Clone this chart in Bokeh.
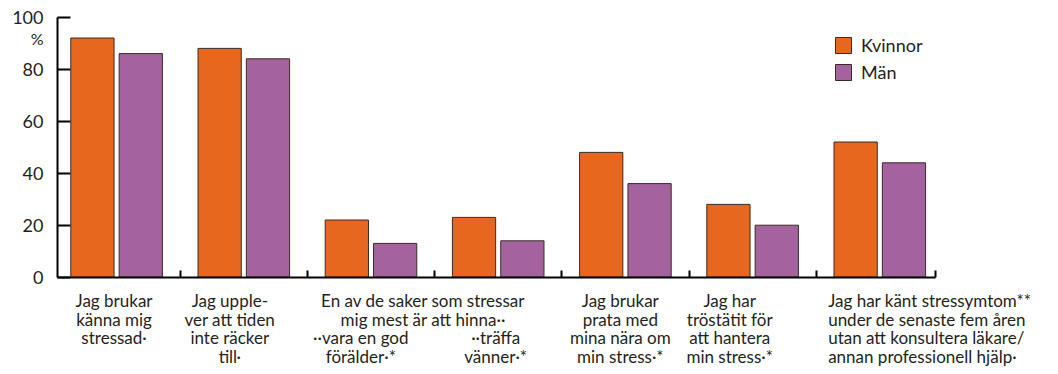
from bokeh.plotting import figure
from bokeh.models import ColumnDataSource, Range1d, FixedTicker, LabelSet, Label
from bokeh.core.properties import value
from bokeh.embed import file_html
from bokeh.resources import INLINE

# ---------------- data ----------------
series_names = ["Kvinnor", "Män"]
kvinnor = [92, 88, 22, 23, 48, 28, 52]
man = [86, 84, 13, 14, 36, 20, 44]
y_ticks = [0, 20, 40, 60, 80, 100]
y_unit = "%"

# category label texts (line by line); categories 3 and 4 share a heading
label_groups = [
    ["Jag brukar", "känna mig", "stressad·"],
    ["Jag upple-", "ver att tiden", "inte räcker", "till·"],
    ["En av de saker som stressar", "mig mest är att hinna··"],
    ["··vara en god", "förälder·*"],
    ["··träffa", "vänner·*"],
    ["Jag brukar", "prata med", "mina nära om", "min stress·*"],
    ["Jag har", "tröstätit för", "att hantera", "min stress·*"],
    ["Jag har känt stressymtom**", "under de senaste fem åren",
     "utan att konsultera läkare/", "annan professionell hjälp·"],
]

# ---------------- layout / style ----------------
ORANGE = "#E8671F"
PURPLE = "#A4639E"
EDGE = "#3b2b24"
TXT = "#231f20"
FONT = "Lato"

W, H = 1050, 370
PX_X = 127.2          # px per category
PX_Y = 2.6            # px per percent
X0_PX = 52.5          # px of category origin
Y0_PX = 276.7         # px of value 0 (from top)

group_x = [0.48, 1.39, 2.91, 2.42, 3.48, 4.46, 5.32, 6.094]
group_first_line = [0, 0, 0, 2, 2, 0, 0, 0]
group_align = ["center"] * 7 + ["left"]

n = len(kvinnor)
xc = [i + 0.5 for i in range(n)]
offset = 0.19
bar_w = 0.34

src = ColumnDataSource(dict(
    xk=[x - offset for x in xc], xm=[x + offset for x in xc],
    kvinnor=kvinnor, man=man))

x_start, x_end = 0.035, 6.94
xr = Range1d(-X0_PX / PX_X, (W - X0_PX) / PX_X)
yr = Range1d(-(H - Y0_PX) / PX_Y, Y0_PX / PX_Y)

p = figure(width=W, height=H, output_backend="svg", toolbar_location=None,
           x_range=xr, y_range=yr,
           min_border_left=0, min_border_right=0, min_border_top=0,
           min_border_bottom=0, min_border=0)
p.outline_line_color = None
p.xgrid.visible = False
p.ygrid.visible = False
p.background_fill_color = "white"
p.border_fill_color = "white"

p.vbar(x="xk", top="kvinnor", width=bar_w, source=src, fill_color=ORANGE,
       line_color=EDGE, line_width=1, legend_label=series_names[0])
p.vbar(x="xm", top="man", width=bar_w, source=src, fill_color=PURPLE,
       line_color=EDGE, line_width=1, legend_label=series_names[1])

# axes, fixed inside the frame
ya = p.yaxis[0]
ya.fixed_location = x_start
ya.bounds = (0, 100)
ya.ticker = FixedTicker(ticks=y_ticks)
ya.minor_tick_line_color = None
ya.major_tick_in = 13
ya.major_tick_out = 0
ya.major_tick_line_width = 2
ya.major_tick_line_color = "black"
ya.axis_line_width = 2
ya.axis_line_color = "black"
ya.major_label_standoff = 14
ya.major_label_text_font = FONT
ya.major_label_text_font_size = "18px"
ya.major_label_text_color = TXT

xa = p.xaxis[0]
xa.fixed_location = 0
xa.bounds = (x_start, x_end)
xa.ticker = FixedTicker(ticks=[float(i) for i in range(1, n)] + [x_end])
xa.minor_tick_line_color = None
xa.major_tick_in = 7
xa.major_tick_out = 0
xa.major_tick_line_width = 2
xa.major_tick_line_color = "black"
xa.axis_line_width = 2
xa.axis_line_color = "black"
xa.major_label_text_font_size = "0px"
xa.major_label_text_alpha = 0

# category labels below the axis
lx, ly, lt, la = [], [], [], []
for g, lines in enumerate(label_groups):
    for k, t in enumerate(lines):
        line_no = group_first_line[g] + k
        lx.append(group_x[g])
        ly.append(-(29.8 + 18.5 * line_no) / PX_Y)
        lt.append(t)
        la.append(group_align[g])
lsrc = ColumnDataSource(dict(x=lx, y=ly, text=lt, align=la))
p.add_layout(LabelSet(x="x", y="y", text="text", text_align="align", source=lsrc,
                      text_font=value(FONT), text_font_size=value("17px"),
                      text_color=value(TXT), text_baseline=value("alphabetic")))

p.add_layout(Label(x=(43 - X0_PX) / PX_X, y=(Y0_PX - 38) / PX_Y, text=y_unit,
                   text_align="right", text_baseline="alphabetic", text_font=FONT,
                   text_font_size="16px", text_color=TXT))

# legend
lg = p.legend[0]
lg.location = (833, H - 83)
lg.border_line_color = None
lg.background_fill_alpha = 0
lg.padding = 0
lg.margin = 0
lg.spacing = 5
lg.glyph_width = 20
lg.glyph_height = 20
lg.label_standoff = 8
lg.label_text_font = FONT
lg.label_text_font_size = "18px"
lg.label_text_color = TXT

open("out.html", "w").write(file_html(p, INLINE))
